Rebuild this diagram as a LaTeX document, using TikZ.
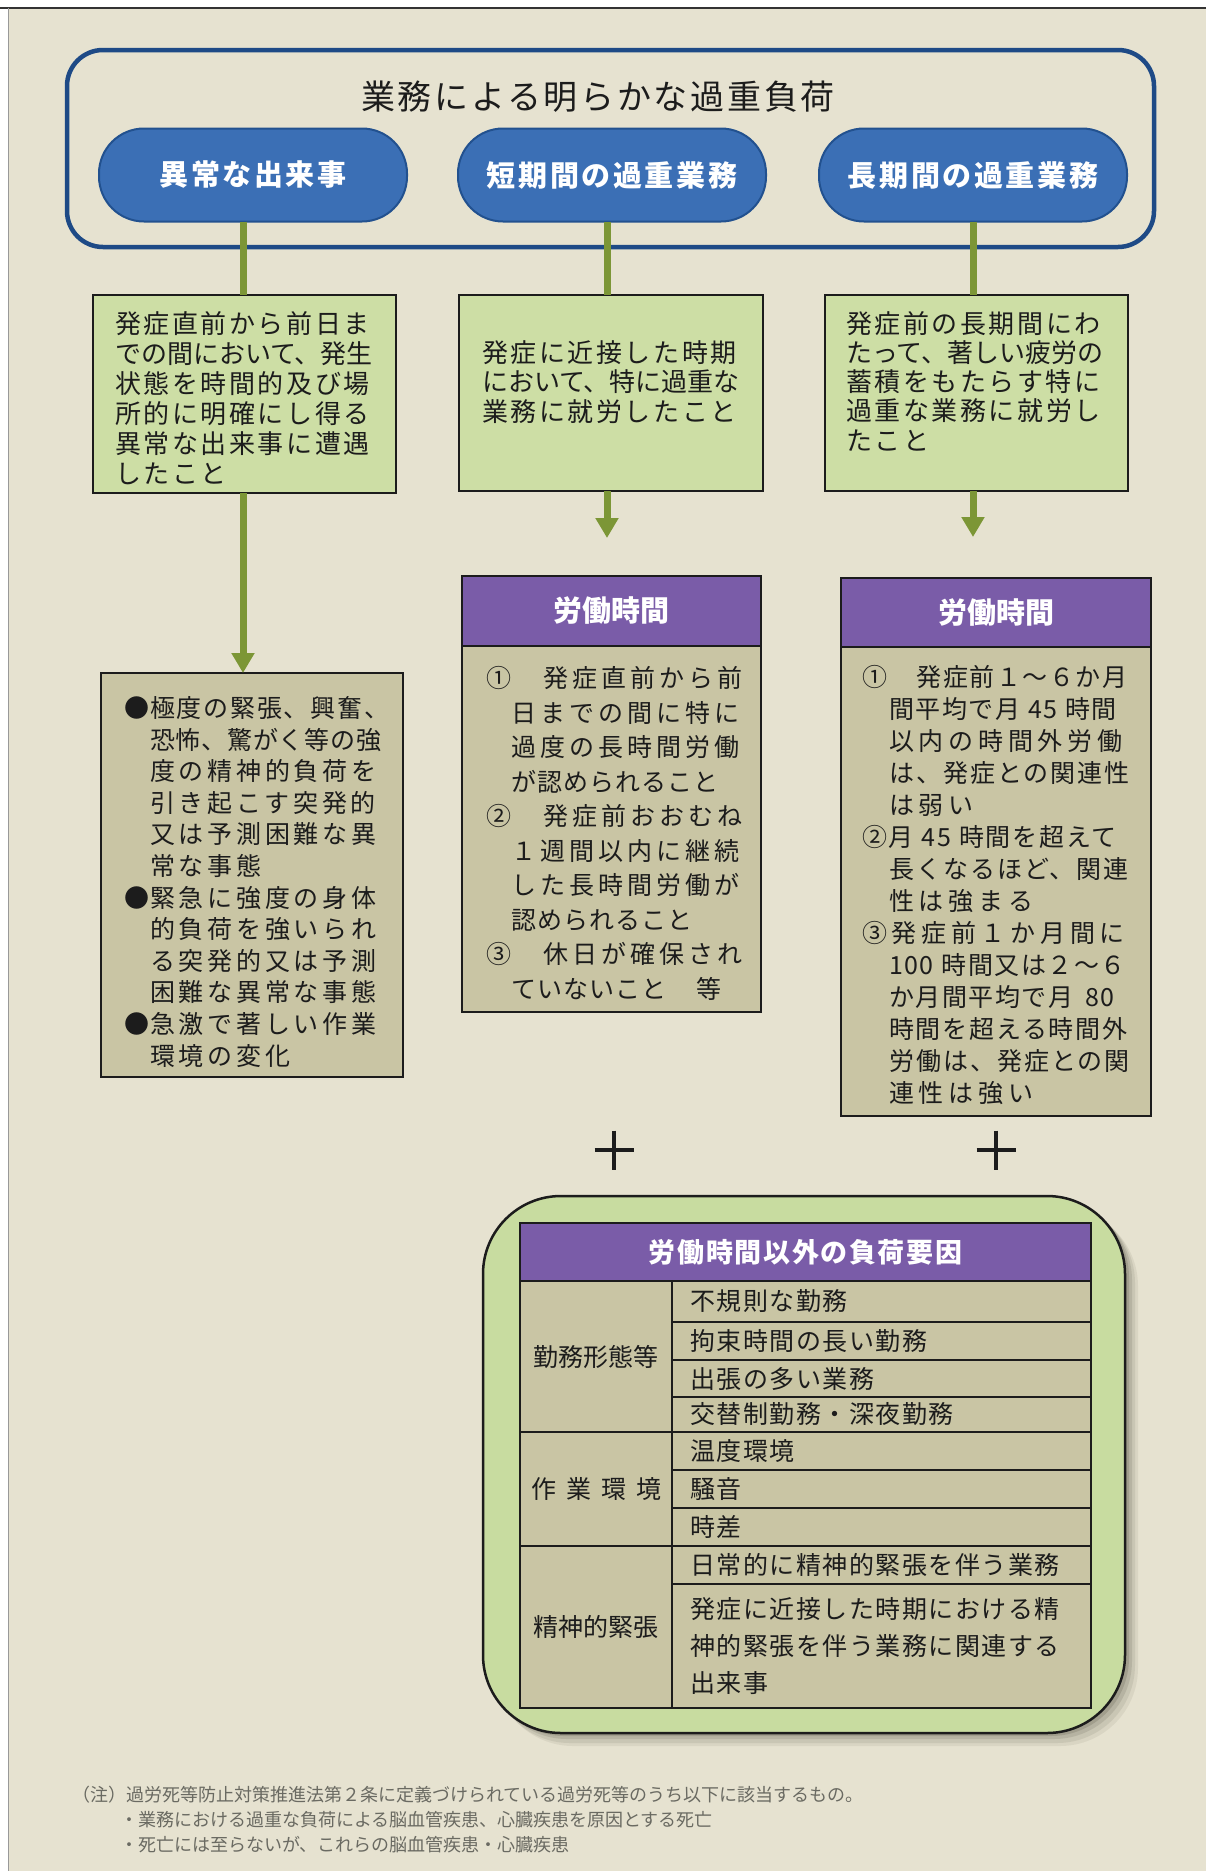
\documentclass[tikz,border=0pt]{standalone}
\usepackage{fontspec}
\setmainfont{Noto Sans CJK JP}
\newfontfamily\jp{Noto Sans CJK JP}
\newfontfamily\jpT[LetterSpace=8]{Noto Sans CJK JP}
\newfontfamily\jpP[LetterSpace=9]{Noto Sans CJK JP}
\newfontfamily\jpG[LetterSpace=10]{Noto Sans CJK JP}
\newfontfamily\jpB[LetterSpace=15]{Noto Sans CJK JP}
\newfontfamily\jpW[LetterSpace=16]{Noto Sans CJK JP}
\newfontfamily\jpC[LetterSpace=19]{Noto Sans CJK JP}
\newfontfamily\jpR[LetterSpace=6]{Noto Sans CJK JP}
\usetikzlibrary{arrows.meta}
\definecolor{bg}{HTML}{E6E2D0}
\definecolor{frameblue}{HTML}{1E4A86}
\definecolor{pillblue}{HTML}{3B6FB5}
\definecolor{pillborder}{HTML}{22518F}
\definecolor{myolive}{HTML}{7C9636}
\definecolor{lgreen}{HTML}{CDDEA5}
\definecolor{khaki}{HTML}{C9C5A4}
\definecolor{purp}{HTML}{7A5CA8}
\definecolor{bgreen}{HTML}{C8DCA0}
\definecolor{ink}{HTML}{1C1C1C}
\definecolor{noteink}{HTML}{6A6A62}
\definecolor{shadowc}{HTML}{6E6B5A}
\newcommand\txtlines[6]{%
  \foreach \lineT [count=\lineI] in {#6}{%
    \node[anchor=base west,text=ink,font=#5] (#1\lineI) at (#2,{#3+(\lineI-1)*#4}) {\lineT};
  }%
}
\begin{document}
\begin{tikzpicture}[x=1pt,y=-1pt,
  every node/.style={inner sep=0pt,outer sep=0pt},
  pill/.style={fill=pillblue,draw=pillborder,line width=2,rounded corners=45,minimum width=308,minimum height=93,text=white,font=\jpP\bfseries\fontsize{29}{29}\selectfont},
  gbox/.style={fill=lgreen,draw=ink,line width=2,anchor=north west},
  kbox/.style={fill=khaki,draw=ink,line width=2,anchor=north west},
  pbox/.style={fill=purp,draw=ink,line width=2,anchor=north west,text=white},
  conn/.style={draw=myolive,line width=7},
  arr/.style={conn,-{Triangle[width=22pt,length=20pt]}},
  cell/.style={kbox,inner xsep=18pt,text width=383pt,align=left,text=ink,font=\jpR\fontsize{25}{37}\selectfont},
  lcell/.style={kbox,minimum width=152,text=ink,align=center,font=\jp\fontsize{25}{25}\selectfont},
  plus/.style={draw=ink,line width=3.5},
  note/.style={anchor=base west,text=noteink,font=\jp\fontsize{18}{18}\selectfont},
  shade/.style={fill=shadowc,rounded corners=78},
]
\useasboundingbox (0,0) rectangle (1206,1871);
% page background
\fill[white] (0,0) rectangle (1206,1871);
\fill[bg] (8,8) rectangle (1206,1871);
\draw[line width=1.6,draw=black!80] (0,8) -- (1206,8);
\draw[line width=1,draw=black!40] (8,8) -- (8,1871);

% outer frame
\node[draw=frameblue,line width=4.5,rounded corners=36,minimum width=1087,minimum height=197,anchor=north west] (frame) at (67,50) {};
\node[text=ink,font=\jpT\fontsize{34}{34}\selectfont] (title) at (598,97) {業務による明らかな過重負荷};

% pills
\node[pill] (p1) at (253,175) {異常な出来事};
\node[pill] (p2) at (612,175) {短期間の過重業務};
\node[pill] (p3) at (973,175) {長期間の過重業務};

% green boxes
\node[gbox,minimum width=303,minimum height=198] (g1) at (93,295) {};
\node[gbox,minimum width=304,minimum height=196] (g2) at (459,295) {};
\node[gbox,minimum width=303,minimum height=196] (g3) at (825,295) {};

\coordinate (l1) at (243,0);
\coordinate (l2) at (607,0);
\coordinate (l3) at (973,0);
\draw[conn] (l1 |- p1.south) -- (l1 |- g1.north);
\draw[conn] (l2 |- p2.south) -- (l2 |- g2.north);
\draw[conn] (l3 |- p3.south) -- (l3 |- g3.north);

\txtlines{ga}{115}{333}{30}{\jpG\fontsize{26}{26}\selectfont}{%
発症直前から前日ま,%
\addfontfeature{LetterSpace=0}での間において、発生,%
状態を時間的及び場,%
所的に明確にし得る,%
異常な出来事に遭遇,%
したこと}
\txtlines{gb}{482}{362}{29.5}{\jpG\fontsize{26}{26}\selectfont}{%
発症に近接した時期,%
\addfontfeature{LetterSpace=0}において、特に過重な,%
業務に就労したこと}
\txtlines{gc}{846}{333}{29.3}{\jpG\fontsize{26}{26}\selectfont}{%
発症前の長期間にわ,%
\addfontfeature{LetterSpace=0}たって、著しい疲労の,%
蓄積をもたらす特に,%
過重な業務に就労し,%
たこと}

% bullets box
\node[kbox,minimum width=302,minimum height=404] (bul) at (101,673) {};
\draw[arr] (l1 |- g1.south) -- (l1 |- bul.north);
\txtlines{ba}{150}{717.5}{31.6}{\jpB\fontsize{25}{25}\selectfont}{%
\llap{●\hspace{1pt}}\addfontfeature{LetterSpace=7}極度の緊張、興奮、,%
\addfontfeature{LetterSpace=3}恐怖、驚がく等の強,%
度の精神的負荷を,%
引き起こす突発的,%
又は予測困難な異,%
常な事態,%
\llap{●\hspace{1pt}}緊急に強度の身体,%
的負荷を強いられ,%
る突発的又は予測,%
困難な異常な事態,%
\llap{●\hspace{1pt}}急激で著しい作業,%
環境の変化}

% working hours box (short term)
\node[pbox,minimum width=299,minimum height=70,font=\jp\bfseries\fontsize{29}{29}\selectfont] (h2) at (462,576) {労働時間};
\node[kbox,minimum width=299,minimum height=366] (b2) at (462,646) {};
\draw[arr,shorten >=38pt] (l2 |- g2.south) -- (l2 |- h2.north);
\txtlines{bb}{511}{687.5}{34.5}{\jpW\fontsize{25}{25}\selectfont}{%
\hspace{-25pt}\makebox[57pt][l]{①}発症直前から前,%
日までの間に特に,%
過度の長時間労働,%
\addfontfeature{LetterSpace=4}が認められること,%
\hspace{-25pt}\makebox[57pt][l]{②}発症前おおむね,%
１週間以内に継続,%
した長時間労働が,%
\addfontfeature{LetterSpace=4}認められること,%
\hspace{-25pt}\makebox[57pt][l]{③}休日が確保され,%
\addfontfeature{LetterSpace=4}ていないこと\hspace{30pt}等}

% working hours box (long term)
\node[pbox,minimum width=310,minimum height=69,font=\jp\bfseries\fontsize{29}{29}\selectfont] (h3) at (841,578) {労働時間};
\node[kbox,minimum width=310,minimum height=469] (b3) at (841,647) {};
\draw[arr,shorten >=41pt] (l3 |- g3.south) -- (l3 |- h3.north);
\txtlines{bc}{889}{686.5}{32}{\jpC\fontsize{25}{25}\selectfont}{%
\hspace{-27pt}\makebox[55pt][l]{①}\addfontfeature{LetterSpace=6}発症前１～６か月,%
\addfontfeature{LetterSpace=6}間平均で月\hspace{8pt}45\hspace{8pt}時間,%
以内の時間外労働,%
\addfontfeature{LetterSpace=8}は、発症との関連性,%
は弱い,%
\hspace{-27pt}\addfontfeature{LetterSpace=7}②月\hspace{8pt}45\hspace{8pt}時間を超えて,%
\addfontfeature{LetterSpace=8}長くなるほど、関連,%
性は強まる,%
\hspace{-27pt}③発症前１か月間に,%
\addfontfeature{LetterSpace=6}100\hspace{8pt}時間又は２～６,%
\addfontfeature{LetterSpace=6}か月間平均で月\hspace{12pt}80,%
\addfontfeature{LetterSpace=7}時間を超える時間外,%
\addfontfeature{LetterSpace=8}労働は、発症との関,%
連性は強い}

% plus signs
\coordinate (plus1) at (614,1150);
\coordinate (plus2) at (996,1150);
\draw[plus] (plus1) ++(-19.5,0) -- ++(39,0);
\draw[plus] (plus1) ++(0,-19.5) -- ++(0,39);
\draw[plus] (plus2) ++(-19.5,0) -- ++(39,0);
\draw[plus] (plus2) ++(0,-19.5) -- ++(0,39);

% other load factors (soft shadow, then box)
\fill[shade,opacity=0.10] (495,1208) rectangle (1138,1746);
\fill[shade,opacity=0.14] (492,1205) rectangle (1135,1743);
\fill[shade,opacity=0.20] (489,1202) rectangle (1132,1739);
\fill[shade,opacity=0.28] (486,1199) rectangle (1129,1736);
\node[fill=bgreen,draw=ink,line width=2.5,rounded corners=78,minimum width=642,minimum height=537,anchor=north west] (big) at (483,1196) {};
\node[pbox,minimum width=571,minimum height=58,font=\jpR\bfseries\fontsize{27}{27}\selectfont] (th) at (520,1223) {労働時間以外の負荷要因};

\node[lcell,minimum height=151] (c1) at (520,1281) {勤務形態等};
\node[lcell,minimum height=114] (c2) at (520,1432) {作\hspace{10pt}業\hspace{10pt}環\hspace{10pt}境};
\node[lcell,minimum height=162] (c3) at (520,1546) {精神的緊張};

\node[cell,minimum height=41] (r1) at (672,1281) {不規則な勤務};
\node[cell,minimum height=38] (r2) at (672,1322) {拘束時間の長い勤務};
\node[cell,minimum height=37] (r3) at (672,1360) {出張の多い業務};
\node[cell,minimum height=35] (r4) at (672,1397) {交替制勤務・深夜勤務};
\node[cell,minimum height=38] (r5) at (672,1432) {温度環境};
\node[cell,minimum height=38] (r6) at (672,1470) {騒音};
\node[cell,minimum height=38] (r7) at (672,1508) {時差};
\node[cell,minimum height=38] (r8) at (672,1546) {日常的に精神的緊張を伴う業務};
\node[cell,minimum height=124] (r9) at (672,1584) {発症に近接した時期における精\\神的緊張を伴う業務に関連する\\出来事};

% footnote
\node[note] (n1) at (72,1801) {（注）過労死等防止対策推進法第２条に定義づけられている過労死等のうち以下に該当するもの。};
\node[note] (n2) at (120,1826) {・業務における過重な負荷による脳血管疾患、心臓疾患を原因とする死亡};
\node[note] (n3) at (120,1851) {・死亡には至らないが、これらの脳血管疾患・心臓疾患};
\end{tikzpicture}
\end{document}
